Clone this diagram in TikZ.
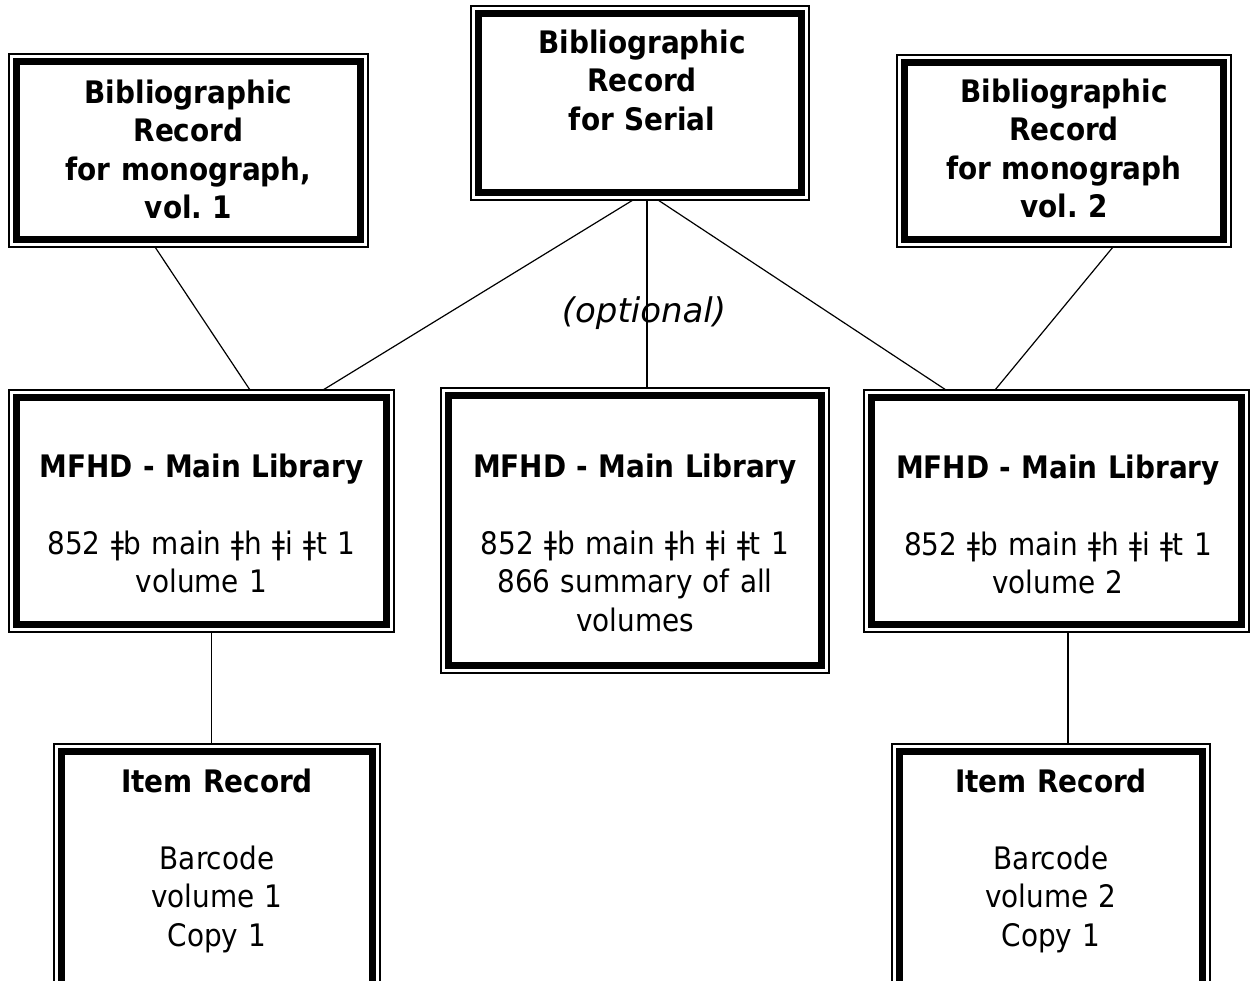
\documentclass[tikz,border=0pt]{standalone}
\usepackage{fontspec}
\newfontfamily\tah[FakeStretch=0.9]{DejaVu Sans}
\newfontfamily\tahi{DejaVu Sans}
\frenchspacing

\begin{document}
\begin{tikzpicture}[x=1pt,y=-1pt,
    rec/.style={draw,line width=1.2pt,inner sep=0,outer sep=0},
    txt/.style={anchor=base,inner sep=0,text width=380pt,align=center,
      font=\tah\fontsize{31}{38.5}\selectfont},
    link/.style={line width=1.2pt}]
    \clip (0,0) rectangle (1250,980);
    \fill[white] (0,0) rectangle (1250,980);
    %BIB RECORDS
    \node[rec,minimum width=359pt,minimum height=193pt] (bibL) at (188.5,150.5) {};
    \node[rec,minimum width=338pt,minimum height=194pt] (bibS) at (640,103) {};
    \node[rec,minimum width=334pt,minimum height=192pt] (bibR) at (1064,151) {};
    %MFHD
    \node[rec,minimum width=385pt,minimum height=242pt] (mfhdL) at (201.5,511) {};
    \node[rec,minimum width=388pt,minimum height=285pt] (mfhdC) at (635,530.5) {};
    \node[rec,minimum width=385pt,minimum height=242pt] (mfhdR) at (1056.5,511) {};
    %ITEMS
    \node[rec,minimum width=326pt,minimum height=256pt] (itemL) at (217,872) {};
    \node[rec,minimum width=318pt,minimum height=256pt] (itemR) at (1051,872) {};
    \foreach \n in {bibL,bibS,bibR,mfhdL,mfhdC,mfhdR,itemL,itemR}
      \draw[line width=7.5pt] ([xshift=7.3pt,yshift=-7.3pt]\n.north west)
                            rectangle ([xshift=-7.3pt,yshift=7.3pt]\n.south east);

    \node[txt] (bibLt) at (188.5,103) {\bfseries Bibliographic\\Record\\for monograph,\\vol. 1};
    \node[txt] (bibSt) at (642,53) {\bfseries Bibliographic\\Record\\for Serial};
    \node[txt] (bibRt) at (1064,102) {\bfseries Bibliographic\\Record\\for monograph\\vol. 2};
    \node[txt] (mfhdLt) at (201.5,477) {\textbf{MFHD - Main Library}\\[38.5pt]
                                         852 ǂb main ǂh ǂi ǂt 1\\volume 1};
    \node[txt] (mfhdCt) at (635,477) {\textbf{MFHD - Main Library}\\[38.5pt]
                                       852 ǂb main ǂh ǂi ǂt 1\\866 summary of all\\volumes};
    \node[txt] (mfhdRt) at (1058,478) {\textbf{MFHD - Main Library}\\[38.5pt]
                                        852 ǂb main ǂh ǂi ǂt 1\\volume 2};
    \node[txt] (itemLt) at (217,792) {\textbf{Item Record}\\[38.5pt]Barcode\\volume 1\\Copy 1};
    \node[txt] (itemRt) at (1051,792) {\textbf{Item Record}\\[38.5pt]Barcode\\volume 2\\Copy 1};
    \node[txt,font=\tahi\itshape\fontsize{34}{40}\selectfont] (opt) at (644,322) {(optional)};

    % links
    \draw[link] ([xshift=-33.5pt]bibL.south) -- ([xshift=48.5pt]mfhdL.north);
    \draw[link] ([xshift=-7pt]bibS.south) -- ([xshift=121.5pt]mfhdL.north);
    \draw[link] ([xshift=7pt]bibS.south) -- ([xshift=12pt]mfhdC.north);
    \draw[link] ([xshift=18pt]bibS.south) -- ([xshift=-110.5pt]mfhdR.north);
    \draw[link] ([xshift=49pt]bibR.south) -- ([xshift=-61.5pt]mfhdR.north);
    \draw[link] ([xshift=10pt]mfhdL.south) -- ([xshift=-5.5pt]itemL.north);
    \draw[link] ([xshift=11.5pt]mfhdR.south) -- ([xshift=17pt]itemR.north);
  \end{tikzpicture}
\end{document}
